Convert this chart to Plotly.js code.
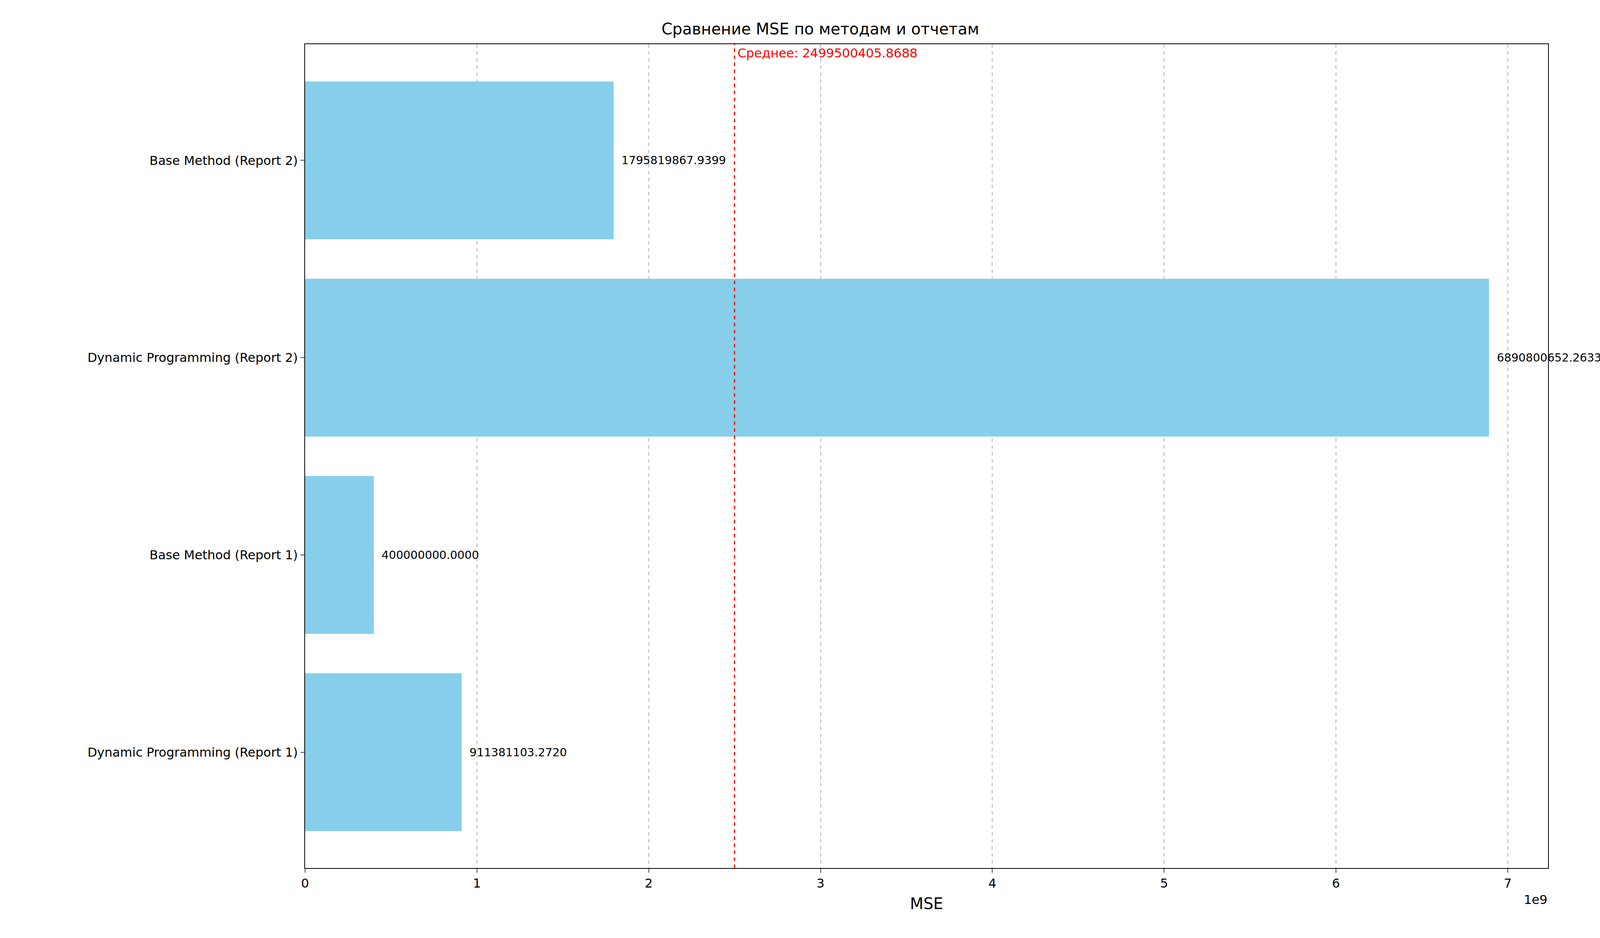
<!DOCTYPE html>
<html><head><meta charset="utf-8">
<script src="https://cdn.plot.ly/plotly-3.0.1.min.js"></script>
<style>body{margin:0}</style></head><body>
<div id="c" style="width:4200px;height:2400px"></div>
<script>
const categories = ["Dynamic Programming (Report 1)","Base Method (Report 1)","Dynamic Programming (Report 2)","Base Method (Report 2)"];
const mseValues = [911381103.2720, 400000000.0000, 6890800652.2633, 1795819867.9399];
const valueLabels = ["911381103.2720","400000000.0000","6890800652.2633","1795819867.9399"];
const meanValue = 2499500405.8688;
const meanLabel = "Среднее: 2499500405.8688";
const tickVals = [0,1e9,2e9,3e9,4e9,5e9,6e9,7e9];
const tickText = ["0","1","2","3","4","5","6","7"];
const font = "DejaVu Sans, sans-serif";
const annotations = categories.map((c,i)=>({x:mseValues[i],y:i,xref:'x',yref:'y',text:valueLabels[i],showarrow:false,xanchor:'left',xshift:18,font:{size:29,color:'black',family:font}}));
annotations.push({x:meanValue,y:1,xref:'x',yref:'paper',yanchor:'top',xanchor:'left',xshift:6,yshift:-2,text:meanLabel,showarrow:false,font:{size:32,color:'red',family:font}});
annotations.push({x:1,y:0,xref:'paper',yref:'paper',xanchor:'right',yanchor:'top',yshift:-60,text:'1e9',showarrow:false,font:{size:32,color:'black',family:font}});
Plotly.newPlot('c',[{type:'bar',orientation:'h',y:[0,1,2,3],x:mseValues,width:0.8,marker:{color:'#87ceeb'},hoverinfo:'none'}],{
 width:4200,height:2400,margin:{l:781,r:237,t:113,b:179},
 paper_bgcolor:'white',plot_bgcolor:'white',showlegend:false,
 font:{family:font,size:32,color:'black'},
 title:{text:'Сравнение MSE по методам и отчетам',font:{size:40,family:font},x:0.5,xanchor:'center',y:0.975},
 xaxis:{range:[0,7.2345e9],tickvals:tickVals,ticktext:tickText,showgrid:true,gridcolor:'#b0b0b0',griddash:'dash',gridwidth:2,
   zeroline:false,showline:true,mirror:true,linecolor:'black',linewidth:2,ticks:'outside',ticklen:10,tickwidth:2,
   title:{text:'MSE',font:{size:40},standoff:20}},
 yaxis:{range:[-0.587,3.589],tickvals:[0,1,2,3],ticktext:categories,showgrid:false,zeroline:false,showline:true,mirror:true,linecolor:'black',linewidth:2,ticks:'outside',ticklen:10,tickwidth:2},
 shapes:[{type:'line',xref:'x',yref:'paper',x0:meanValue,x1:meanValue,y0:0,y1:1,line:{color:'red',width:3,dash:'dash'}}],
 annotations:annotations
},{staticPlot:true});
</script></body></html>
